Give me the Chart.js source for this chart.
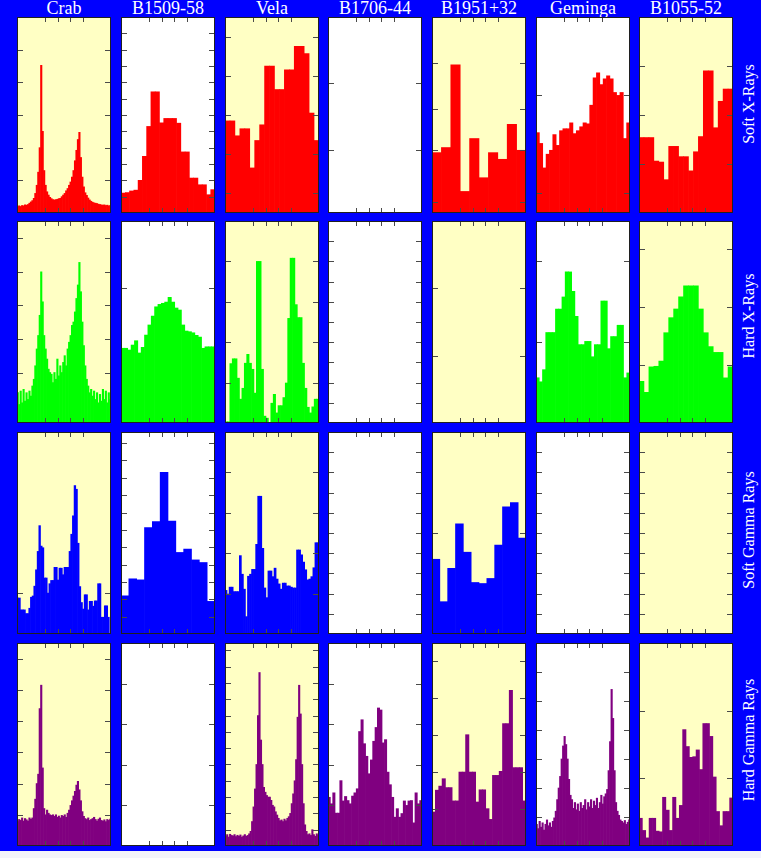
<!DOCTYPE html>
<html><head><meta charset="utf-8">
<script src="https://cdn.jsdelivr.net/npm/chart.js@4"></script>
<style>
html,body{margin:0;padding:0;background:#f4f4fa;}
#stage{position:relative;width:761px;height:851px;background:#0000ff;overflow:hidden;}
.panel{position:absolute;display:block;}
.title{position:absolute;top:-1px;color:#fff;font-family:"Liberation Serif","DejaVu Serif","Times New Roman",serif;font-weight:normal;font-size:18px;line-height:19px;text-align:center;width:110px;white-space:nowrap;}
.rowlab{position:absolute;color:#fff;font-family:"Liberation Serif","DejaVu Serif","Times New Roman",serif;font-size:16px;line-height:16px;white-space:nowrap;transform:translate(-50%,-50%) rotate(-90deg);}
</style></head>
<body><div id="stage"></div>
<script>
const pulsars = ['Crab','B1509-58','Vela','B1706-44','B1951+32','Geminga','B1055-52'];
const bands = ['Soft X-Rays','Hard X-Rays','Soft Gamma Rays','Hard Gamma Rays'];
const xTickFractions = [0.2,0.4,0.6,0.8];

// ---- Soft X-Rays ----
const crabSoftX = [0.2,0.22,0.2,0.23,0.22,0.25,0.24,0.26,0.3,0.34,0.38,0.45,0.6,0.85,1.25,2.0,4.52,2.5,1.3,0.85,0.65,0.55,0.48,0.44,0.41,0.4,0.41,0.42,0.44,0.45,0.5,0.55,0.6,0.68,0.75,0.85,0.95,1.1,1.3,1.6,1.92,2.25,2.47,1.7,1.1,0.8,0.62,0.54,0.46,0.4,0.36,0.33,0.31,0.3,0.29,0.27,0.26,0.25,0.24,0.25,0.23,0.24,0.22,0.23];
const crabSoftXTicks = [1,2,3,4,5];
const b1509SoftX = [1.22,1.25,1.35,1.4,2.0,3.47,5.3,7.42,7.42,5.52,5.79,5.79,5.79,5.5,3.74,3.74,2.14,2.14,1.73,1.73,1.12,1.43];
const b1509SoftXTicks = [1,2,3,4,5,6,7,8,9,10,11];
const velaSoftX = [2.35,2.35,1.97,2.15,2.15,1.15,1.85,2.25,3.75,3.75,3.15,3.15,3.65,3.65,4.25,4.25,4.07,2.55,1.85];
const velaSoftXTicks = [0.5,1.5,2.5,3.5,4.5];
const b1706SoftX = [];
const b1706SoftXTicks = [0.94,1.94];
const b1951SoftX = [30.8,33.4,75.6,11,38,18,30.8,27.4,45.2,32];
const b1951SoftXTicks = [5.5,32,53,76.7];
const gemingaSoftX = [0.82,0.71,0.46,0.6,0.64,0.8,0.69,0.84,0.86,0.86,0.92,0.81,0.84,0.88,0.92,0.91,1.1,1.38,1.43,1.31,1.37,1.4,1.37,1.23,1.2,1.23,0.76,0.92];
const gemingaSoftXTicks = [0.2,1.2];
const b1055SoftX = [1.54,1.54,1.54,1.06,1.04,0.68,1.36,1.36,1.15,1.15,0.86,1.25,1.56,2.9,2.9,1.74,2.28,2.53,2.53];
const b1055SoftXTicks = [1,2,3];

// ---- Hard X-Rays ----
const crabHardX = [0.9,0.55,0.95,0.6,1.0,0.65,0.9,0.7,0.95,0.8,1.1,1.3,1.7,2.2,2.6,3.2,4.49,3.6,2.6,2.2,1.9,1.6,1.5,1.45,1.2,1.5,1.3,1.9,1.4,1.7,1.5,1.8,2.0,1.7,2.2,2.4,2.6,2.9,3.0,3.3,3.7,4.1,4.77,3.9,3.0,2.3,1.7,1.3,1.1,0.9,1.0,0.8,0.95,0.7,0.9,0.6,0.85,0.65,1.0,0.7,0.95,0.6,0.9,0.7];
const crabHardXTicks = [1.5,2.5,3.5,4.5,5.5];
const b1509HardX = [0.555,0.555,0.542,0.579,0.611,0.52,0.562,0.653,0.728,0.794,0.863,0.881,0.889,0.898,0.933,0.898,0.854,0.839,0.728,0.683,0.678,0.67,0.651,0.638,0.555,0.566,0.566,0.566];
const b1509HardXTicks = [1];
const velaHardX = [0.03,0.03,1.47,1.59,1.59,1.11,0.59,0.86,1.48,1.7,1.48,1.33,0.74,4.0,4.0,1.33,0.17,0.12,0,0.49,0.71,0.25,0.43,0.43,0.63,0.99,2.59,4.08,4.08,2.93,2.61,2.61,1.48,0.86,0.39,0.25,0.4,0.59,0.59];
const velaHardXTicks = [1,2,3,4];
const b1706HardX = [];
const b1706HardXTicks = [1,2,3,4,5,6,7,8,9];
const b1951HardX = [];
const b1951HardXTicks = [1,2];
const gemingaHardX = [0.56,0.51,0.66,1.12,1.12,1.12,1.41,1.41,1.56,1.87,1.87,1.63,1.32,0.97,0.97,1.01,1.01,0.82,0.97,0.97,1.51,1.51,0.92,1.07,1.07,1.21,1.21,0.56,0.62];
const gemingaHardXTicks = [1,2];
const b1055HardX = [0.72,0.53,0.97,0.98,1.07,1.56,1.82,1.97,2.18,2.37,2.37,2.37,1.97,1.56,1.32,1.22,1.22,0.78,0.97];
const b1055HardXTicks = [1,2,3];

// ---- Soft Gamma Rays ----
const crabSoftG = [0.88,0.88,0.59,0.59,0.59,0.5,0.5,0.63,0.9,0.93,1.17,1.57,2.02,2.65,2.15,2.11,1.37,1.37,1.0,1.23,1.31,1.31,1.63,1.63,1.32,1.61,1.61,1.45,1.63,1.63,1.63,2.02,2.44,2.89,3.63,3.54,2.22,1.16,0.77,0.61,0.96,0.96,0.59,0.8,0.8,0.68,0.81,0.81,1.23,1.23,0.41,0.41,0.69,0.69,0.41,0];
const crabSoftGTicks = [1];
const b1509SoftG = [2.2,3.18,3.12,6.13,6.48,9.31,6.51,4.7,4.89,4.27,4.12,1.88];
const b1509SoftGTicks = [1,2,3,4,5,6,7,8,9,10,11];
const velaSoftG = [1.08,0.99,1.16,1.16,1.05,1.05,1.05,1.94,1.48,1.11,0.43,1.43,1.48,1.6,1.6,2.22,3.41,3.41,2.12,1.14,0.9,1.56,1.56,1.42,1.63,1.36,1.24,1.11,1.26,1.26,1.19,1.19,1.16,1.14,1.14,2.08,2.08,1.96,1.78,1.59,1.34,1.36,1.42,1.64,2.26,2.26];
const velaSoftGTicks = [1,2,3,4];
const b1706SoftG = [];
const b1706SoftGTicks = [1,2,3,4,5,6,7,8,9];
const b1951SoftG = [0.74,0.32,0.65,1.09,0.81,0.51,0.5,0.55,0.88,1.26,1.3,0.95];
const b1951SoftGTicks = [1];
const gemingaSoftG = [];
const gemingaSoftGTicks = [1,2,3,4,5,6,7,8,9];
const b1055SoftG = [];
const b1055SoftGTicks = [1,2,3,4,5,6,7,8,9];

// ---- Hard Gamma Rays ----
const crabHardG = [0.78,0.85,0.82,0.9,0.8,0.88,0.84,0.8,0.9,0.86,0.9,1.2,1.5,2.0,2.3,4.4,5.15,2.5,1.2,1.0,1.15,1.05,1.0,0.98,1.0,0.95,1.0,0.92,0.96,0.9,0.98,0.95,1.0,0.92,1.05,1.15,1.3,1.45,1.6,1.75,1.95,2.07,1.8,1.45,1.1,0.95,0.88,0.85,0.9,0.82,0.85,0.88,0.92,0.85,0.8,0.86,0.9,0.82,0.8,0.84,0.78,0.85,0.82,0.86];
const crabHardGTicks = [1,2,3,4,5,6];
const b1509HardG = [];
const b1509HardGTicks = [1,2,3,4];
const velaHardG = [0.6,0.7,0.55,0.72,0.65,0.62,0.7,0.58,0.66,0.6,0.68,0.55,0.62,0.7,0.6,0.65,0.75,0.9,1.5,2.4,3.5,5.0,8.0,10.64,6.5,5.0,3.6,3.3,3.1,3.0,3.0,2.8,2.5,2.4,2.1,1.9,1.7,1.55,1.6,1.5,1.65,1.55,1.7,1.8,2.0,2.6,3.2,4.0,5.3,7.9,9.86,8.1,5.0,2.6,1.3,0.9,0.7,0.75,0.65,1.0,0.7,0.6,0.75,0.65];
const velaHardGTicks = [1,2,3,4,5,6,7,8,9,10,11,12];
const b1706HardG = [1.2,1.04,1.31,0.81,0.81,1.61,1.11,1.22,1.12,1.04,1.23,1.31,1.41,2.82,3.11,2.52,2.21,1.78,2.12,2.58,2.92,3.4,3.35,2.54,2.62,1.82,1.51,1.2,0.71,0.92,0.71,0.8,1.11,1.0,1.11,1.12,0.57,1.31,1.04,1.12];
const b1706HardGTicks = [1,2,3,4];
const b1951HardG = [0.92,1.51,1.62,1.82,1.58,1.58,1.22,1.22,2.0,2.0,3.01,2.0,2.0,1.19,1.52,1.52,1.01,0.72,1.91,1.91,2.02,3.31,3.31,4.21,2.12,2.12,2.12,1.22];
const b1951HardGTicks = [1,2,3,4,5];
const gemingaHardG = [0.75,0.6,0.85,0.65,0.8,0.55,0.75,0.9,0.7,0.8,0.65,0.85,0.97,1.2,1.6,2.0,2.4,3.0,3.45,3.78,3.5,3.0,2.3,1.75,1.6,1.3,1.5,1.25,1.45,1.2,1.5,1.3,1.4,1.6,1.25,1.5,1.35,1.6,1.3,1.55,1.4,1.65,1.3,1.5,1.75,1.45,1.7,1.8,1.95,2.6,3.6,5.4,4.4,2.6,1.5,1.2,1.06,0.9,0.85,0.8,0.88,0.75,0.82,0.9];
const gemingaHardGTicks = [1,2,3,4,5,6];
const b1055HardG = [0.41,0.23,0.12,0.41,0.41,0.22,0.21,0.72,0.53,0.23,0.72,0.41,0.6,1.72,1.47,1.31,1.32,1.42,1.13,1.81,1.81,1.62,1.02,0.51,0.3,0.51,0.51,0.71];
const b1055HardGTicks = [1,2];

// y-axis maxima per panel (rows = bands, columns = pulsars)
const yMaxSoftX  = [6, 12, 5, 2.93, 100, 2.0, 4.0];
const yMaxHardX  = [6, 1.5, 5, 10, 3, 2.5, 3.49];
const yMaxSoftG  = [4.94, 11.64, 5, 10, 2, 10, 10];
const yMaxHardG  = [6.5, 5, 12.45, 5, 5.49, 7, 3];

const grid = [
  {color:'#ff0000', max:yMaxSoftX, series:[crabSoftX,b1509SoftX,velaSoftX,b1706SoftX,b1951SoftX,gemingaSoftX,b1055SoftX], ticks:[crabSoftXTicks,b1509SoftXTicks,velaSoftXTicks,b1706SoftXTicks,b1951SoftXTicks,gemingaSoftXTicks,b1055SoftXTicks]},
  {color:'#00ff00', max:yMaxHardX, series:[crabHardX,b1509HardX,velaHardX,b1706HardX,b1951HardX,gemingaHardX,b1055HardX], ticks:[crabHardXTicks,b1509HardXTicks,velaHardXTicks,b1706HardXTicks,b1951HardXTicks,gemingaHardXTicks,b1055HardXTicks]},
  {color:'#0000ff', max:yMaxSoftG, series:[crabSoftG,b1509SoftG,velaSoftG,b1706SoftG,b1951SoftG,gemingaSoftG,b1055SoftG], ticks:[crabSoftGTicks,b1509SoftGTicks,velaSoftGTicks,b1706SoftGTicks,b1951SoftGTicks,gemingaSoftGTicks,b1055SoftGTicks]},
  {color:'#800080', max:yMaxHardG, series:[crabHardG,b1509HardG,velaHardG,b1706HardG,b1951HardG,gemingaHardG,b1055HardG], ticks:[crabHardGTicks,b1509HardGTicks,velaHardGTicks,b1706HardGTicks,b1951HardGTicks,gemingaHardGTicks,b1055HardGTicks]}
];

// layout
const colLeft = [17,121,225,328,432,536,639];
const panelW = 94;
const rowTop = [17,221,432,643];
const rowH = [196,202,202,203];
const rowLabelCenter = [104,316,530,740];
const bgYellow = '#ffffc4', bgWhite = '#ffffff';

const stage = document.getElementById('stage');

pulsars.forEach((name,c)=>{
  const d = document.createElement('div');
  d.className='title'; d.textContent=name;
  d.style.left=(colLeft[c]+panelW/2-55)+'px';
  stage.appendChild(d);
});
bands.forEach((name,r)=>{
  const d = document.createElement('div');
  d.className='rowlab'; d.textContent=name;
  d.style.left='749px';
  d.style.top=rowLabelCenter[r]+'px';
  stage.appendChild(d);
});

function decoPlugin(bg, yTicks){
  return {
    id:'panelDeco',
    beforeDraw(chart){
      const {ctx, chartArea:a} = chart;
      ctx.save(); ctx.fillStyle=bg;
      ctx.fillRect(a.left,a.top,a.right-a.left,a.bottom-a.top);
      ctx.restore();
    },
    afterDraw(chart){
      const {ctx, chartArea:a} = chart;
      const ys = chart.scales.y, xf = chart.scales.xf;
      ctx.save();
      ctx.lineWidth=1; ctx.strokeStyle='#4a4a4a';
      ctx.beginPath();
      xTickFractions.forEach(f=>{
        const px = Math.round(xf.getPixelForValue(f))+0.5;
        ctx.moveTo(px,a.top); ctx.lineTo(px,a.top+5);
        ctx.moveTo(px,a.bottom); ctx.lineTo(px,a.bottom-5);
      });
      yTicks.forEach(v=>{
        const py = Math.round(ys.getPixelForValue(v))+0.5;
        ctx.moveTo(a.left,py); ctx.lineTo(a.left+6,py);
        ctx.moveTo(a.right,py); ctx.lineTo(a.right-6,py);
      });
      ctx.stroke();
      ctx.strokeStyle='#202020';
      ctx.strokeRect(a.left+0.5,a.top+0.5,a.right-a.left-1,a.bottom-a.top-1);
      ctx.restore();
    }
  };
}

grid.forEach((row,r)=>{
  row.series.forEach((vals,c)=>{
    const cv = document.createElement('canvas');
    cv.className='panel';
    cv.width=panelW; cv.height=rowH[r];
    cv.style.left=colLeft[c]+'px'; cv.style.top=rowTop[r]+'px';
    cv.style.width=panelW+'px'; cv.style.height=rowH[r]+'px';
    stage.appendChild(cv);
    const bg = (c%2===0)?bgYellow:bgWhite;
    new Chart(cv,{
      type:'bar',
      data:{labels:vals.map((_,i)=>i), datasets:[{data:vals, backgroundColor:row.color, borderWidth:0, barPercentage:1, categoryPercentage:1}]},
      options:{
        responsive:false, animation:false, devicePixelRatio:1,
        layout:{padding:0},
        plugins:{legend:{display:false}, tooltip:{enabled:false}},
        scales:{
          x:{type:'category', display:false},
          xf:{type:'linear', axis:'x', position:'bottom', display:false, min:0, max:1},
          y:{type:'linear', display:false, min:0, max:row.max[c]}
        }
      },
      plugins:[decoPlugin(bg, row.ticks[c])]
    });
  });
});
</script>
</body></html>
